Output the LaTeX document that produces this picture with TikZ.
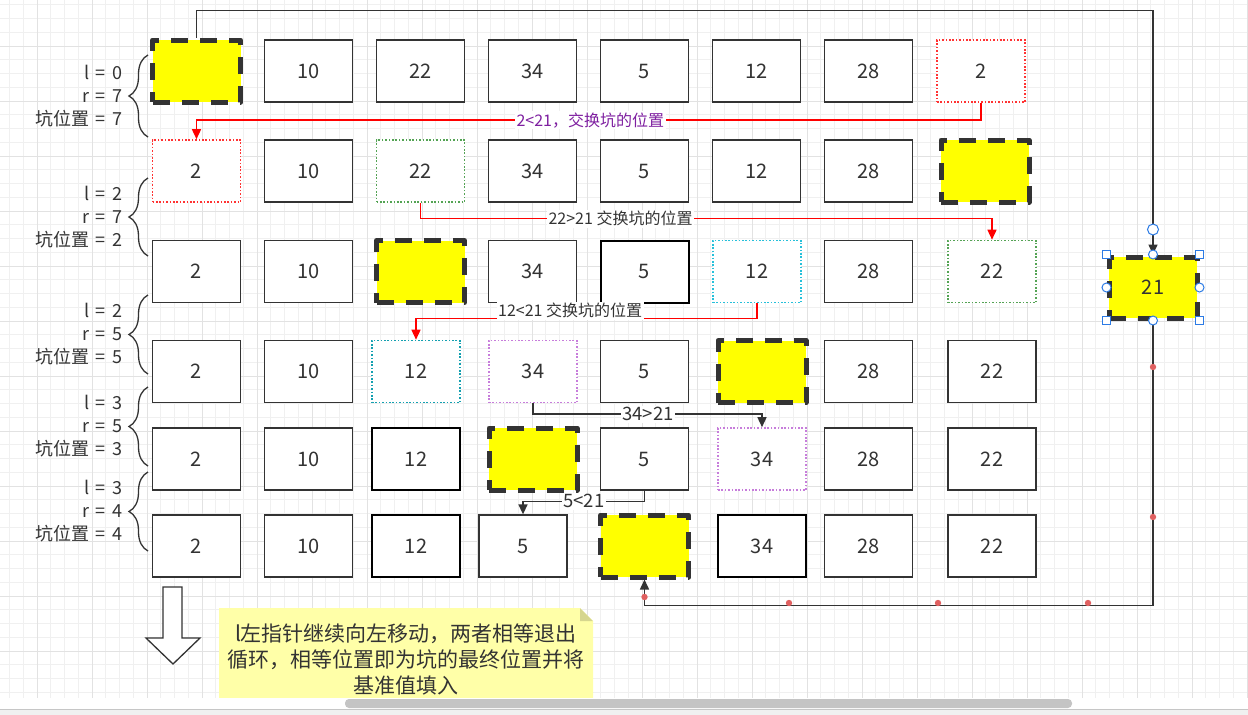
\documentclass[tikz,border=0pt]{standalone}
\usepackage{fontspec}
\setmainfont{Noto Sans CJK SC}
\usetikzlibrary{arrows.meta}
\usetikzlibrary{calc}
\usetikzlibrary{decorations.pathreplacing}
\definecolor{ink}{HTML}{333333}
\definecolor{pityellow}{HTML}{FFFF00}
\definecolor{dotred}{HTML}{FF3333}
\definecolor{dotgreen}{HTML}{54A354}
\definecolor{dotcyan}{HTML}{26C0DA}
\definecolor{dotteal}{HTML}{14A0B0}
\definecolor{dotpurple}{HTML}{C77DDB}
\definecolor{lblpurple}{HTML}{7E1FA0}
\definecolor{gridminor}{HTML}{F0F0F0}
\definecolor{gridmajor}{HTML}{E2E2E2}
\definecolor{notefill}{HTML}{FFFFA8}
\definecolor{notefold}{HTML}{D6D68E}
\definecolor{selblue}{HTML}{2C7BE5}
\definecolor{waydot}{HTML}{E06060}
\definecolor{barthumb}{HTML}{C4C4C4}
\definecolor{barbg}{HTML}{F0F0F0}
\newcommand\numfont{\fontsize{20}{24}\selectfont}
\newcommand\sidefont{\fontsize{18}{23}\selectfont}
\newcommand\lblfont{\fontsize{16}{19}\selectfont}
\newcommand\cmpfont{\fontsize{18.5}{22}\selectfont}
\newcommand\notefont{\fontsize{21}{26}\selectfont}
\newcommand\eqsign{\hspace{6pt}=\hspace{7pt}}

\begin{document}
\begin{tikzpicture}[
    x=1pt, y=-1pt,
    cell/.style={
      draw=ink, line width=1.3pt, fill=white, text=ink,
      minimum width=88pt, minimum height=62pt, inner sep=0pt, font=\numfont
    },
    boldcell/.style={cell, draw=black, line width=2pt},
    dotcell/.style={cell, draw=#1, line width=1.6pt, dash pattern=on 1.6pt off 1.8pt},
    pit/.style={cell, fill=pityellow, line width=5pt, dash pattern=on 17pt off 12pt, line join=round},
    sidelbl/.style={anchor=east, align=right, font=\sidefont, text=ink, inner sep=0pt},
    sidebrace/.style={decorate, decoration={brace, amplitude=19pt}, draw=ink, line width=1.3pt},
    redline/.style={draw=red, line width=1.5pt, -{Triangle[length=10pt,width=9pt]}},
    darkline/.style={draw=ink, line width=1.5pt, -{Triangle[length=10pt,width=9pt]}},
    lbl/.style={fill=white, inner sep=1.5pt, font=\lblfont, text=ink},
    handle/.style={draw=selblue, fill=white, line width=1pt}
  ]
    \useasboundingbox (0,0) rectangle (1248,715);
    \fill[white] (0,0) rectangle (1248,715);

    % background grid
    \draw[gridminor, line width=1pt, step=13.75pt, shift={(9.5,4.75)}] (-9.5,-4.75) grid (1238.5,693.25);
    \draw[gridmajor, line width=1pt, step=55pt, shift={(37,46)}] (-37,-46) grid (1211,652);

    % row 1
    \node[pit] (r1c1) at (196.5,71) {};
    \node[cell] (r1c2) at (308.5,71) {10};
    \node[cell] (r1c3) at (420.5,71) {22};
    \node[cell] (r1c4) at (532.5,71) {34};
    \node[cell] (r1c5) at (644.5,71) {5};
    \node[cell] (r1c6) at (756.5,71) {12};
    \node[cell] (r1c7) at (868.5,71) {28};
    \node[dotcell=dotred] (r1c8) at (981,71) {2};

    % row 2
    \node[dotcell=dotred] (r2c1) at (196.5,171) {2};
    \node[cell] (r2c2) at (308.5,171) {10};
    \node[dotcell=dotgreen] (r2c3) at (420.5,171) {22};
    \node[cell] (r2c4) at (532.5,171) {34};
    \node[cell] (r2c5) at (644.5,171) {5};
    \node[cell] (r2c6) at (756.5,171) {12};
    \node[cell] (r2c7) at (868.5,171) {28};
    \node[pit] (r2c8) at (985,171) {};

    % row 3
    \node[cell] (r3c1) at (196.5,271.5) {2};
    \node[cell] (r3c2) at (308.5,271.5) {10};
    \node[pit] (r3c3) at (420.5,271.5) {};
    \node[cell] (r3c4) at (532.5,271.5) {34};
    \node[boldcell] (r3c5) at (644.5,271.5) {5};
    \node[dotcell=dotcyan] (r3c6) at (757,271.5) {12};
    \node[cell] (r3c7) at (868.5,271.5) {28};
    \node[dotcell=dotgreen] (r3c8) at (992,271.5) {22};

    % row 4
    \node[cell] (r4c1) at (196.5,371.5) {2};
    \node[cell] (r4c2) at (308.5,371.5) {10};
    \node[dotcell=dotteal] (r4c3) at (416,371.5) {12};
    \node[dotcell=dotpurple] (r4c4) at (533,371.5) {34};
    \node[cell] (r4c5) at (644.5,371.5) {5};
    \node[pit] (r4c6) at (762,371.5) {};
    \node[cell] (r4c7) at (868.5,371.5) {28};
    \node[cell] (r4c8) at (992,371.5) {22};

    % row 5
    \node[cell] (r5c1) at (196.5,459) {2};
    \node[cell] (r5c2) at (308.5,459) {10};
    \node[boldcell] (r5c3) at (416,459) {12};
    \node[pit] (r5c4) at (533,459) {};
    \node[cell] (r5c5) at (644.5,459) {5};
    \node[dotcell=dotpurple] (r5c6) at (762,459) {34};
    \node[cell] (r5c7) at (868.5,459) {28};
    \node[cell] (r5c8) at (992,459) {22};

    % row 6
    \node[cell] (r6c1) at (196.5,546) {2};
    \node[cell] (r6c2) at (308.5,546) {10};
    \node[boldcell] (r6c3) at (416,546) {12};
    \node[cell] (r6c4) at (523,546) {5};
    \node[pit] (r6c5) at (644.5,546) {};
    \node[boldcell] (r6c6) at (762,546) {34};
    \node[cell] (r6c7) at (868.5,546) {28};
    \node[cell] (r6c8) at (992,546) {22};

    % pivot
    \node[pit, minimum height=61pt] (pivot) at (1153,287.5) {21};

    % l, r and pit position
    \node[sidelbl] (lA) at (123,96) {l\eqsign 0\\r\eqsign 7\\坑位置\eqsign 7};
    \node[sidelbl] (lB) at (123,217) {l\eqsign 2\\r\eqsign 7\\坑位置\eqsign 2};
    \node[sidelbl] (lC) at (123,334) {l\eqsign 2\\r\eqsign 5\\坑位置\eqsign 5};
    \node[sidelbl] (lD) at (123,426) {l\eqsign 3\\r\eqsign 5\\坑位置\eqsign 3};
    \node[sidelbl] (lE) at (123,511) {l\eqsign 3\\r\eqsign 4\\坑位置\eqsign 4};
    \draw[sidebrace] (148,137) -- (148,55);
    \draw[sidebrace] (148,256) -- (148,178);
    \draw[sidebrace] (148,374) -- (148,295);
    \draw[sidebrace] (148,466) -- (148,387);
    \draw[sidebrace] (148,551) -- (148,472);

    % swaps
    \draw[redline] (r1c8.south) |- node[lbl, pos=0.749, text=lblpurple] {2<21，交换坑的位置}
      ($(r2c1.north)+(0,-19)$) -- (r2c1.north);
    \draw[redline] (r2c3.south) |- node[lbl, pos=0.675] {22>21 交换坑的位置}
      ($(r3c8.north)+(0,-21)$) -- (r3c8.north);
    \draw[redline] (r3c6.south) |- node[lbl, pos=0.774, yshift=8pt] {12<21 交换坑的位置}
      ($(r4c3.north)+(0,-21)$) -- (r4c3.north);
    \draw[darkline] (r4c4.south) |- node[lbl, pos=0.751, font=\cmpfont] {34>21}
      ($(r5c6.north)+(0,-13)$) -- (r5c6.north);
    \draw[darkline] (r5c5.south) |- node[lbl, pos=0.75, font=\cmpfont] {5<21}
      ($(r6c4.north)+(0,-13)$) -- (r6c4.north);

    % pivot out and back in
    \draw[darkline] (r1c1.north) -- ++(0,-27) -| (pivot.north);
    \draw[darkline] (pivot.south) -- ++(0,285) -| (r6c5.south);

    % waypoints and selection handles
    \fill[waydot] (1153,367) circle (3.2);
    \fill[waydot] (1153,517) circle (3.2);
    \fill[waydot] (1088,603) circle (3.2);
    \fill[waydot] (938,603) circle (3.2);
    \fill[waydot] (789,603) circle (3.2);
    \fill[waydot] (644.5,597) circle (3.2);
    \draw[handle] ($(pivot.north)+(0,-25)$) circle (5.5);
    \draw[handle] (pivot.north west) +(-4,-4) rectangle +(4,4);
    \draw[handle] (pivot.north east) +(-4,-4) rectangle +(4,4);
    \draw[handle] (pivot.south west) +(-4,-4) rectangle +(4,4);
    \draw[handle] (pivot.south east) +(-4,-4) rectangle +(4,4);
    \draw[handle] (pivot.north) circle (4.5);
    \draw[handle] (pivot.south) circle (4.5);
    \draw[handle] (pivot.west) circle (4.5);
    \draw[handle] (pivot.east) circle (4.5);

    % down arrow
    \draw[ink, line width=1.3pt, fill=white] (163,587) -- (182,587) -- (182,638) -- (200,638)
      -- (173,664) -- (146,638) -- (163,638) -- cycle;

    % note
    \fill[notefill] (219,608) -- (580,608) -- (593,621) -- (593,698) -- (219,698) -- cycle;
    \fill[notefold] (580,608) -- (593,621) -- (580,621) -- cycle;
    \node[align=center, font=\notefont, text=ink, inner sep=0pt] (note) at (406,659)
      {l左指针继续向左移动，两者相等退出\\循环，相等位置即为坑的最终位置并将\\基准值填入};

    % scroll bar
    \fill[white] (0,698) rectangle (1248,709);
    \fill[barbg] (0,709) rectangle (1248,715);
    \draw[gray!45, line width=1pt] (0,709) -- (1248,709);
    \fill[barthumb, rounded corners=4pt] (345,699) rectangle (1072,708);
  \end{tikzpicture}
\end{document}
